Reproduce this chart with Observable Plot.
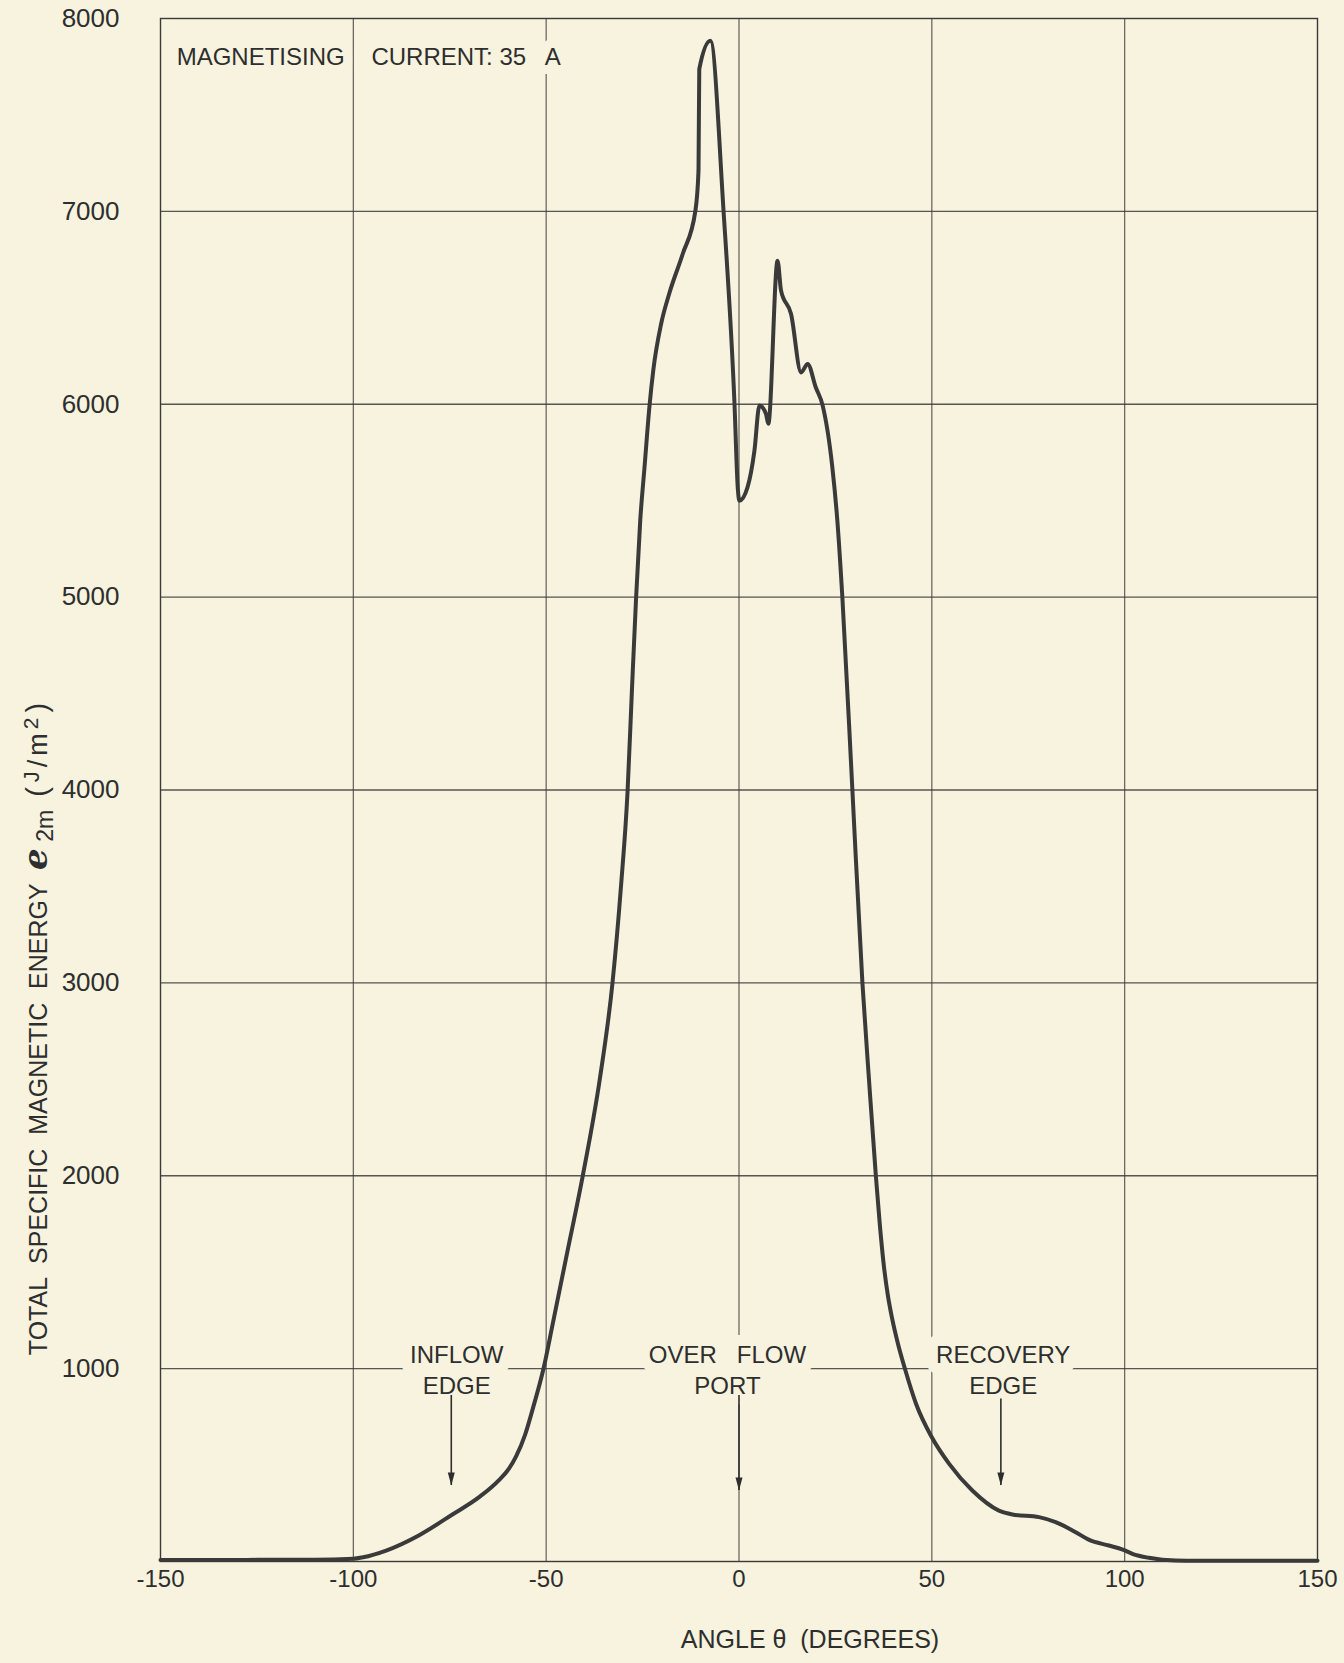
<!DOCTYPE html>
<html><head><meta charset="utf-8">
<script src="https://cdn.jsdelivr.net/npm/d3@7"></script>
<script src="https://cdn.jsdelivr.net/npm/@observablehq/plot@0.6"></script>
<style>
html,body{margin:0;padding:0;background:#f7f3de;}
#chart svg text{white-space:pre;}
</style></head><body><div id="chart"></div>
<script>
// ---- data ----
const angles = [-150,-140,-130,-120,-110,-100,-97.5,-91.5,-82.8,-74.2,-67.3,-62.1,-59.7,-57.8,-55.5,-53.5,-50.7,-48.3,-44.8,-40.5,-36.1,-32.8,-30.6,-28.9,-27.8,-26.7,-25.6,-24.5,-23.2,-22.2,-20.2,-18.1,-14.6,-11.3,-10.5,-10.3,-7.4,-4.0,-1.2,-0.3,0.1,2.2,4.0,5.3,7.0,7.6,10.0,10.9,13.5,16.1,17.8,19.9,21.7,24.2,25.5,26.8,29.4,32.0,33.7,35.5,36.5,37.6,38.6,39.7,41.2,43.1,45.9,50.0,54.5,60.5,67.4,70.9,77.8,82.1,87.3,90.8,95.9,99.5,102,106.3,113.2,120,130,140,150];
const energy = [8,8,8,9,9,14,22,57,138,245,335,425,480,545,655,790,999,1232,1577,2001,2500,3000,3500,3990,4500,4990,5400,5673,5993,6180,6416,6573,6779,7004,7211,7738,7885,7000,6018,5560,5500,5569,5759,5993,5950,5899,6744,6589,6468,6165,6209,6088,5993,5673,5397,5000,4000,3000,2500,1996,1750,1526,1380,1260,1130,994,818,644,506,368,264,244,230,204,152,112,83,62,40,19,5,4,4,4,4];

const xTicks = [-150,-100,-50,0,50,100,150];
const yTicks = [1000,2000,3000,4000,5000,6000,7000,8000];
const xGrid = [-100,-50,0,50,100];
const yGrid = [1000,2000,3000,4000,5000,6000,7000];

const noteLabels = ["INFLOW\nEDGE", "OVER   FLOW\nPORT", "RECOVERY\nEDGE"];
const noteX = [-73.2, -3.0, 68.5];
const noteY = [1000, 1000, 1000];
const arrowX = [-74.6, 0, 67.9];
const arrowTop = [861, 861, 843];
const arrowTip = [394, 368, 394];

const titleText = "MAGNETISING    CURRENT: 35   A";
const titleX = [-145.8];
const titleY = [7800];
const xLabel = "ANGLE θ  (DEGREES)";
const yLabel = "TOTAL  SPECIFIC  MAGNETIC  ENERGY";

// ---- build ----
const curve = angles.map((a, i) => ({angle: a, energy: energy[i]}));
const notes = noteLabels.map((t, i) => ({text: t, x: noteX[i], y: noteY[i]}));
const arrows = arrowX.map((x, i) => ({x, top: arrowTop[i], tip: arrowTip[i]}));
const title = titleX.map((x, i) => ({text: titleText, x, y: titleY[i]}));

const ink = "#2e2e2e";
const bg = "#f7f3de";
const headDown = {draw(ctx) { ctx.moveTo(0, 0); ctx.lineTo(-3.5, -13); ctx.lineTo(3.5, -13); ctx.closePath(); }};

const chart = Plot.plot({
  width: 1344,
  height: 1663,
  marginTop: 18,
  marginBottom: 102,
  marginLeft: 160,
  marginRight: 27,
  style: {fontFamily: "'Liberation Sans', Arial, sans-serif", fontSize: "24px", background: bg, color: ink},
  x: {domain: [-150, 150]},
  y: {domain: [0, 8000]},
  marks: [
    Plot.ruleX(xGrid, {stroke: "#3a3a3a", strokeWidth: 1.2, strokeOpacity: 0.8}),
    Plot.ruleY(yGrid, {stroke: "#3a3a3a", strokeWidth: 1.3, strokeOpacity: 0.85}),
    Plot.frame({stroke: "#3a3a3a", strokeWidth: 1.4}),
    Plot.axisX({ticks: xTicks, tickSize: 0, tickPadding: 8, tickFormat: d => String(d), label: null, fill: ink, fontSize: 24}),
    Plot.axisY({ticks: yTicks, tickSize: 0, tickPadding: 41, tickFormat: d => String(d), label: null, fill: ink, fontSize: 26}),
    // halos that break the grid behind the lettering
    Plot.text(title, {x: "x", y: "y", text: "text", textAnchor: "start", fill: bg, stroke: bg, strokeWidth: 18}),
    Plot.text(notes, {x: "x", y: "y", text: "text", textAnchor: "middle", lineHeight: 1.3, fill: bg, stroke: bg, strokeWidth: 22}),
    Plot.text(title, {x: "x", y: "y", text: "text", textAnchor: "start", fill: ink}),
    Plot.text(notes, {x: "x", y: "y", text: "text", textAnchor: "middle", lineHeight: 1.3, fill: ink}),
    Plot.line(curve, {x: "angle", y: "energy", curve: "monotone-x", stroke: "#3a3a3a", strokeWidth: 4, strokeLinejoin: "round", strokeLinecap: "round"}),
    Plot.ruleX(arrows, {x: "x", y1: "top", y2: "tip", stroke: ink, strokeWidth: 1.6}),
    Plot.dot(arrows, {x: "x", y: "tip", symbol: headDown, fill: ink, stroke: null}),
    Plot.text([xLabel], {text: d => d, frameAnchor: "bottom", textAnchor: "middle", dx: 71, dy: 86, fill: ink, fontSize: 25}),
    Plot.text([yLabel], {text: d => d, frameAnchor: "left", textAnchor: "middle", rotate: -90, dx: -122, dy: 239, fill: ink, fontSize: 25})
  ]
});

// rich y label: e_2m (J/m^2)
d3.select(chart).selectAll("text").filter(function() { return this.textContent === yLabel; }).each(function() {
  const t = d3.select(this);
  t.text(null);
  t.append("tspan").text(yLabel + "  ");
  t.append("tspan").attr("font-weight", "bold").attr("font-style", "italic").attr("font-family", "'DejaVu Serif', serif").attr("font-size", 34).text("e");
  t.append("tspan").attr("dy", 6).attr("font-size", 23).text(" 2m");
  t.append("tspan").attr("dy", -6).attr("font-size", 29).attr("letter-spacing", 5).text(" (");
  t.append("tspan").attr("dy", -8).attr("font-size", 22).attr("letter-spacing", 4).text("J");
  t.append("tspan").attr("dy", 8).attr("font-size", 27).attr("letter-spacing", 4).text("/m");
  t.append("tspan").attr("dy", -9).attr("font-size", 21).attr("letter-spacing", 5).text("2");
  t.append("tspan").attr("dy", 9).attr("font-size", 29).text(")");
});

document.getElementById("chart").appendChild(chart);
</script></body></html>
